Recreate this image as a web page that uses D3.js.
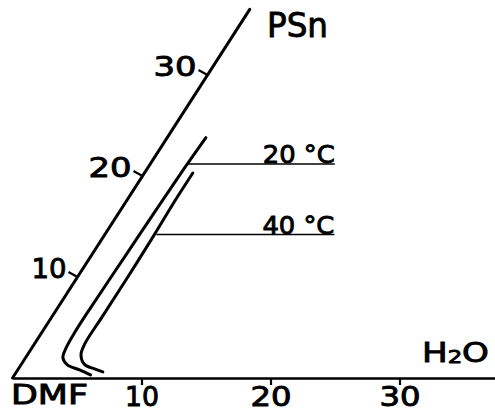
<!DOCTYPE html>
<html lang="en">
<head>
<meta charset="utf-8">
<script src="https://cdn.jsdelivr.net/npm/d3@7"></script>
<style>
  body { margin: 0; background: #fff; }
  svg text { font-family: "DejaVu Sans", sans-serif; fill: #000; stroke: #000; stroke-width: 0.9px; }
</style>
</head>
<body>
<script>
// tick values on both legs of the diagram (wt %)
var waterTicks = [10, 20, 30];
var psnTicks = [10, 20, 30];
var psnMax = 36.5;
var waterMax = 38;

// binodal curves, points as [H2O %, PSn %]
var curve20 = [[3.0, 23.8], [2.85, 20.5], [2.75, 17], [2.65, 12], [2.55, 7], [2.55, 4.5],
               [2.65, 3.0], [2.9, 2.0], [3.6, 1.3], [4.8, 0.8], [5.9, 0.3]];
var curve40 = [[3.75, 20.3], [3.75, 17.6], [3.85, 14], [3.9, 10], [3.9, 6], [3.9, 3.4],
               [4.15, 2.3], [4.9, 1.35], [5.9, 0.9], [6.7, 0.6]];

// temperature labels, each on a horizontal line (constant PSn)
var tieLabels = ["20 °C", "40 °C"];
var tieLevels = [21.2, 14.2];
var tieStart = [2.85, 4.0];
var tieEnd = [14.3, 17.8];

var w = 495, h = 415;
var x0 = 12.5, y0 = 378;

// ternary style projection: water runs along the base, PSn up the slanted side
var wScale = d3.scaleLinear().domain([0, 10]).range([0, 129]);
var pShift = d3.scaleLinear().domain([0, 10]).range([0, 65]);
var pScale = d3.scaleLinear().domain([0, 10]).range([0, 101]);

function px(wt, p) { return x0 + wScale(wt) + pShift(p); }
function py(p) { return y0 - pScale(p); }

var svg = d3.select("body")
  .append("svg")
  .attr("width", w)
  .attr("height", h);

// base (H2O) axis
var baseScale = d3.scaleLinear()
  .domain([0, waterMax])
  .range([x0, x0 + wScale(waterMax)]);

var baseAxis = d3.axisBottom(baseScale)
  .tickValues(waterTicks)
  .tickSizeInner(7)
  .tickSizeOuter(0)
  .tickPadding(3);

var gBase = svg.append("g")
  .attr("transform", "translate(0," + y0 + ")")
  .call(baseAxis);

gBase.attr("font-family", null).attr("font-size", null);
gBase.select(".domain").attr("stroke-width", 2.5);
gBase.selectAll(".tick line").attr("stroke-width", 2.2);
gBase.selectAll(".tick text")
  .attr("font-size", 26)
  .attr("textLength", function(d) { return d == 10 ? 34 : 41; })
  .attr("lengthAdjust", "spacingAndGlyphs");

// slanted (PSn) axis
svg.append("line")
  .attr("x1", px(0, 0)).attr("y1", py(0))
  .attr("x2", px(0, psnMax)).attr("y2", py(psnMax))
  .attr("stroke", "#000")
  .attr("stroke-width", 3)
  .attr("stroke-linecap", "round");

var psnTick = svg.selectAll(".psnTick")
  .data(psnTicks)
  .enter()
  .append("g")
  .attr("class", "psnTick")
  .attr("transform", function(d) {
    return "translate(" + px(0, d) + "," + py(d) + ")";
  });

psnTick.append("line")
  .attr("x1", 0).attr("y1", 0)
  .attr("x2", -9).attr("y2", -5)
  .attr("stroke", "#000")
  .attr("stroke-width", 2.2);

psnTick.append("text")
  .attr("x", -11)
  .attr("y", 1)
  .attr("text-anchor", "end")
  .attr("font-size", 27)
  .attr("textLength", function(d) { return d == 10 ? 35 : 43; })
  .attr("lengthAdjust", "spacingAndGlyphs")
  .text(function(d) { return d; });

// binodal curves
var line = d3.line()
  .x(function(d) { return px(d[0], d[1]); })
  .y(function(d) { return py(d[1]); })
  .curve(d3.curveCatmullRom.alpha(0.5));

svg.selectAll(".binodal")
  .data([curve20, curve40])
  .enter()
  .append("path")
  .attr("class", "binodal")
  .attr("d", line)
  .attr("fill", "none")
  .attr("stroke", "#000")
  .attr("stroke-width", 3)
  .attr("stroke-linecap", "round");

// temperature lines and labels
var tie = svg.selectAll(".tie")
  .data(tieLabels)
  .enter()
  .append("g")
  .attr("class", "tie");

tie.append("line")
  .attr("x1", function(d, i) { return px(tieStart[i], tieLevels[i]); })
  .attr("x2", function(d, i) { return px(tieEnd[i], tieLevels[i]); })
  .attr("y1", function(d, i) { return py(tieLevels[i]); })
  .attr("y2", function(d, i) { return py(tieLevels[i]); })
  .attr("stroke", "#000")
  .attr("stroke-width", 1.5);

tie.append("text")
  .attr("x", function(d, i) { return px(tieEnd[i], tieLevels[i]); })
  .attr("y", function(d, i) { return py(tieLevels[i]) - 1; })
  .attr("text-anchor", "end")
  .attr("font-size", 25)
  .attr("textLength", 72)
  .attr("lengthAdjust", "spacingAndGlyphs")
  .text(function(d) { return d; });

// corner labels
svg.append("text")
  .attr("x", 267)
  .attr("y", 37)
  .attr("font-size", 33)
  .attr("textLength", 61)
  .attr("lengthAdjust", "spacingAndGlyphs")
  .text("PSn");

svg.append("text")
  .attr("x", 11)
  .attr("y", 404)
  .attr("font-size", 26)
  .attr("textLength", 77)
  .attr("lengthAdjust", "spacingAndGlyphs")
  .text("DMF");

var water = svg.append("text")
  .attr("x", 422)
  .attr("y", 362)
  .attr("font-size", 27)
  .attr("textLength", 67)
  .attr("lengthAdjust", "spacingAndGlyphs");
water.append("tspan").text("H");
water.append("tspan").attr("font-size", 18).attr("dy", 1).text("2");
water.append("tspan").attr("dy", -1).text("O");
</script>
</body>
</html>
